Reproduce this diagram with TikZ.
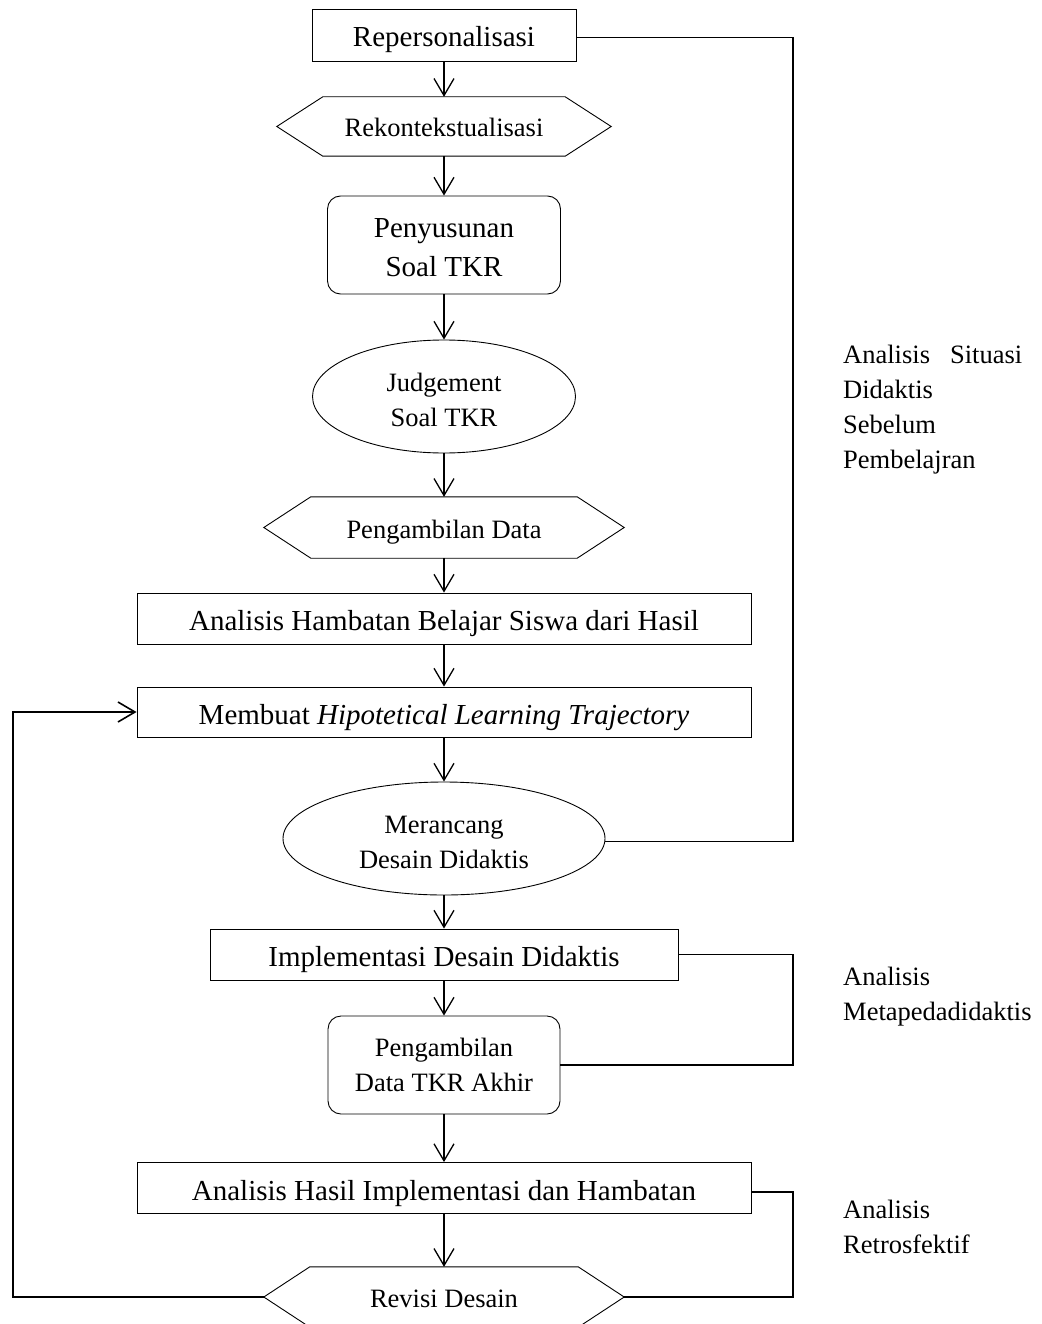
\documentclass[tikz,border=0pt]{standalone}
\usepackage{fontspec}
\setmainfont{Liberation Serif}
\usetikzlibrary{arrows.meta,shapes.geometric,calc}
\tikzset{
  big/.style={font=\fontsize{29}{39}\selectfont},
  small/.style={font=\fontsize{26.5}{35.5}\selectfont},
  boxnode/.style={draw, line width=0.9pt, rectangle, inner sep=0pt, align=center},
  roundnode/.style={boxnode, rounded corners=13pt},
  ellnode/.style={draw, line width=0.9pt, ellipse, inner sep=0pt, align=center},
  hexnode/.style={rectangle, inner sep=0pt, align=center},
  bigline/.style={big, text height=24pt, text depth=0pt},
  smallline/.style={small, text height=21pt, text depth=0pt},
  arr/.style={line width=1.3pt, -{Straight Barb[length=17pt,width=20pt]}},
  link/.style={line width=1.6pt},
  lbl/.style={small, anchor=base west, inner sep=0pt},
}
\newcommand\hexout[2]{\draw[line width=0.9pt] (#1.west) -- ([xshift=#2]#1.north west) -- ([xshift=-#2]#1.north east) -- (#1.east) -- ([xshift=-#2]#1.south east) -- ([xshift=#2]#1.south west) -- cycle;}
\newcommand\tstrut{\rule{0pt}{25pt}}
\begin{document}
\begin{tikzpicture}[x=1pt,y=-1pt]
\fill[white] (0,0) rectangle (1041,1324);
\useasboundingbox (0,0) rectangle (1041,1324);

% main column
\node[boxnode, bigline, minimum width=264pt, minimum height=52pt] (rep) at (444,35) {Repersonalisasi};
\node[hexnode, smallline, minimum width=334pt, minimum height=59pt] (rek) at (444,126.5) {Rekontekstualisasi};
\node[roundnode, big, minimum width=233pt, minimum height=98pt] (pen) at (444,245) {\tstrut Penyusunan\\Soal TKR};
\node[ellnode, small, minimum width=263pt, minimum height=113pt] (jud) at (444,396.5) {\tstrut Judgement\\Soal TKR};
\node[hexnode, smallline, minimum width=360pt, minimum height=61pt] (peng) at (444,527.5) {Pengambilan Data};
\node[boxnode, bigline, minimum width=614pt, minimum height=51pt] (ahb) at (444,618.5) {Analisis Hambatan Belajar Siswa dari Hasil};
\node[boxnode, bigline, minimum width=614pt, minimum height=50pt] (hlt) at (444,712) {Membuat \textit{Hipotetical Learning Trajectory}};
\node[ellnode, small, minimum width=322pt, minimum height=113pt] (mer) at (444,838.5) {\tstrut Merancang\\Desain Didaktis};
\node[boxnode, bigline, minimum width=468pt, minimum height=51pt] (imp) at (444,954.5) {Implementasi Desain Didaktis};
\node[roundnode, small, minimum width=232pt, minimum height=98pt] (ptk) at (444,1065) {Pengambilan\\Data TKR Akhir};
\node[boxnode, bigline, minimum width=614pt, minimum height=51pt] (ahi) at (444,1188) {Analisis Hasil Implementasi dan Hambatan};
\node[hexnode, smallline, minimum width=360pt, minimum height=60pt] (rev) at (444,1297) {Revisi Desain};

\hexout{rek}{46pt}
\hexout{peng}{47pt}
\hexout{rev}{46pt}

% vertical arrows
\draw[arr] (rep) -- (rek);
\draw[arr] (rek) -- (pen);
\draw[arr] (pen) -- (jud);
\draw[arr] (jud) -- (peng);
\draw[arr] (peng) -- (ahb);
\draw[arr] (ahb) -- (hlt);
\draw[arr] (hlt) -- (mer);
\draw[arr] (mer) -- (imp);
\draw[arr] (imp) -- (ptk);
\draw[arr] (ptk) -- (ahi);
\draw[arr] (ahi) -- (rev);

% brackets and loop
\coordinate (rx) at (793,0);
\coordinate (lx) at (13,0);
\draw[link] ([yshift=-2.5pt]rep.east) -| (rx |- mer.-1.6) -- (mer.-1.6);
\draw[link] (imp.east) -| (rx |- ptk.east) -- (ptk.east);
\draw[link] ([yshift=-4pt]ahi.east) -| (rx |- rev.east) -- (rev.east);
\draw[link, -{Straight Barb[length=17pt,width=20pt]}] (rev.west) -- (lx |- rev.west) |- (hlt.west);

% side labels
\node[lbl] (s1) at (843,363) {\makebox[179pt][s]{Analisis Situasi}};
\node[lbl] (s2) at (843,398) {Didaktis};
\node[lbl] (s3) at (843,433) {Sebelum};
\node[lbl] (s4) at (843,468) {Pembelajran};
\node[lbl] (m1) at (843,985) {Analisis};
\node[lbl] (m2) at (843,1020) {Metapedadidaktis};
\node[lbl] (r1) at (843,1218) {Analisis};
\node[lbl] (r2) at (843,1253) {Retrosfektif};
\end{tikzpicture}
\end{document}
